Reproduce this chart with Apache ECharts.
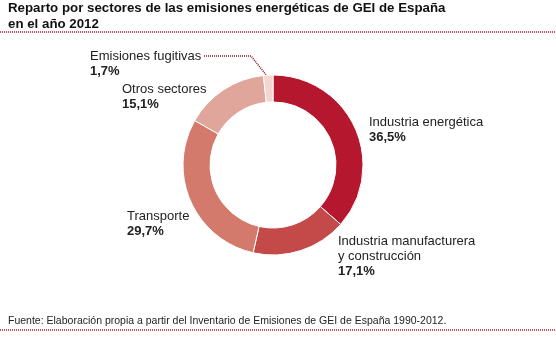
<!DOCTYPE html>
<html><head><meta charset="utf-8">
<script src="https://cdn.jsdelivr.net/npm/echarts@6/dist/echarts.min.js"></script>
<style>html,body{margin:0;padding:0;background:#fff}#c{width:556px;height:357px}</style>
</head><body><div id="c"></div>
<script>
const categories = ['Industria energética', 'Industria manufacturera\ny construcción', 'Transporte', 'Otros sectores', 'Emisiones fugitivas'];
const values = [36.5, 17.1, 29.7, 15.1, 1.7];
const colors = ['#b5172e', '#c44a4a', '#d47a6c', '#e0a69b', '#f4d6d0'];
const labelPos = [[369, 115], [338, 234], [127, 209], [122, 82], [90, 49]];

const chart = echarts.init(document.getElementById('c'), null, {renderer: 'canvas'});
const fmt = v => v.toFixed(1).replace('.', ',') + '%';
chart.setOption({
  animation: false,
  title: {
    text: 'Reparto por sectores de las emisiones energéticas de GEI de España\nen el año 2012',
    left: 8, top: 0, padding: 0,
    textStyle: {fontFamily: 'Liberation Sans, Arial', fontSize: 13.3, fontWeight: 'bold', color: '#111', lineHeight: 16}
  },
  graphic: [
    {type: 'line', shape: {x1: 0, y1: 32, x2: 556, y2: 32}, style: {stroke: '#c8102e', lineWidth: 1.5, lineDash: [1, 1]}},
    {type: 'line', shape: {x1: 0, y1: 330, x2: 556, y2: 330}, style: {stroke: '#c8102e', lineWidth: 1.5, lineDash: [1, 1]}},
    {type: 'polyline', shape: {points: [[204, 56], [251, 56], [267, 76]]}, style: {stroke: '#8b1424', lineWidth: 1.5, lineDash: [1, 1], fill: null}},
    {type: 'text', left: 8, top: 316, style: {text: 'Fuente: Elaboración propia a partir del Inventario de Emisiones de GEI de España 1990-2012.', font: '10.5px Liberation Sans, Arial', fill: '#222'}}
  ],
  series: [{
    type: 'pie',
    center: [273, 165],
    radius: [63, 90],
    startAngle: 90,
    clockwise: true,
    itemStyle: {borderColor: '#fff', borderWidth: 1},
    data: categories.map((n, i) => ({name: n, value: values[i], itemStyle: {color: colors[i]}})),
    label: {
      show: true,
      formatter: p => '{n|' + p.name.split('\n').join('}\n{n|') + '}\n{v|' + fmt(p.value) + '}',
      rich: {
        n: {fontFamily: 'Liberation Sans, Arial', fontSize: 13, color: '#222', lineHeight: 15},
        v: {fontFamily: 'Liberation Sans, Arial', fontSize: 13, fontWeight: 'bold', color: '#222', lineHeight: 15}
      }
    },
    labelLine: {show: false},
    labelLayout: p => ({x: labelPos[p.dataIndex][0], y: labelPos[p.dataIndex][1], align: 'left', verticalAlign: 'top'}),
    emphasis: {disabled: true}
  }]
});
</script></body></html>
